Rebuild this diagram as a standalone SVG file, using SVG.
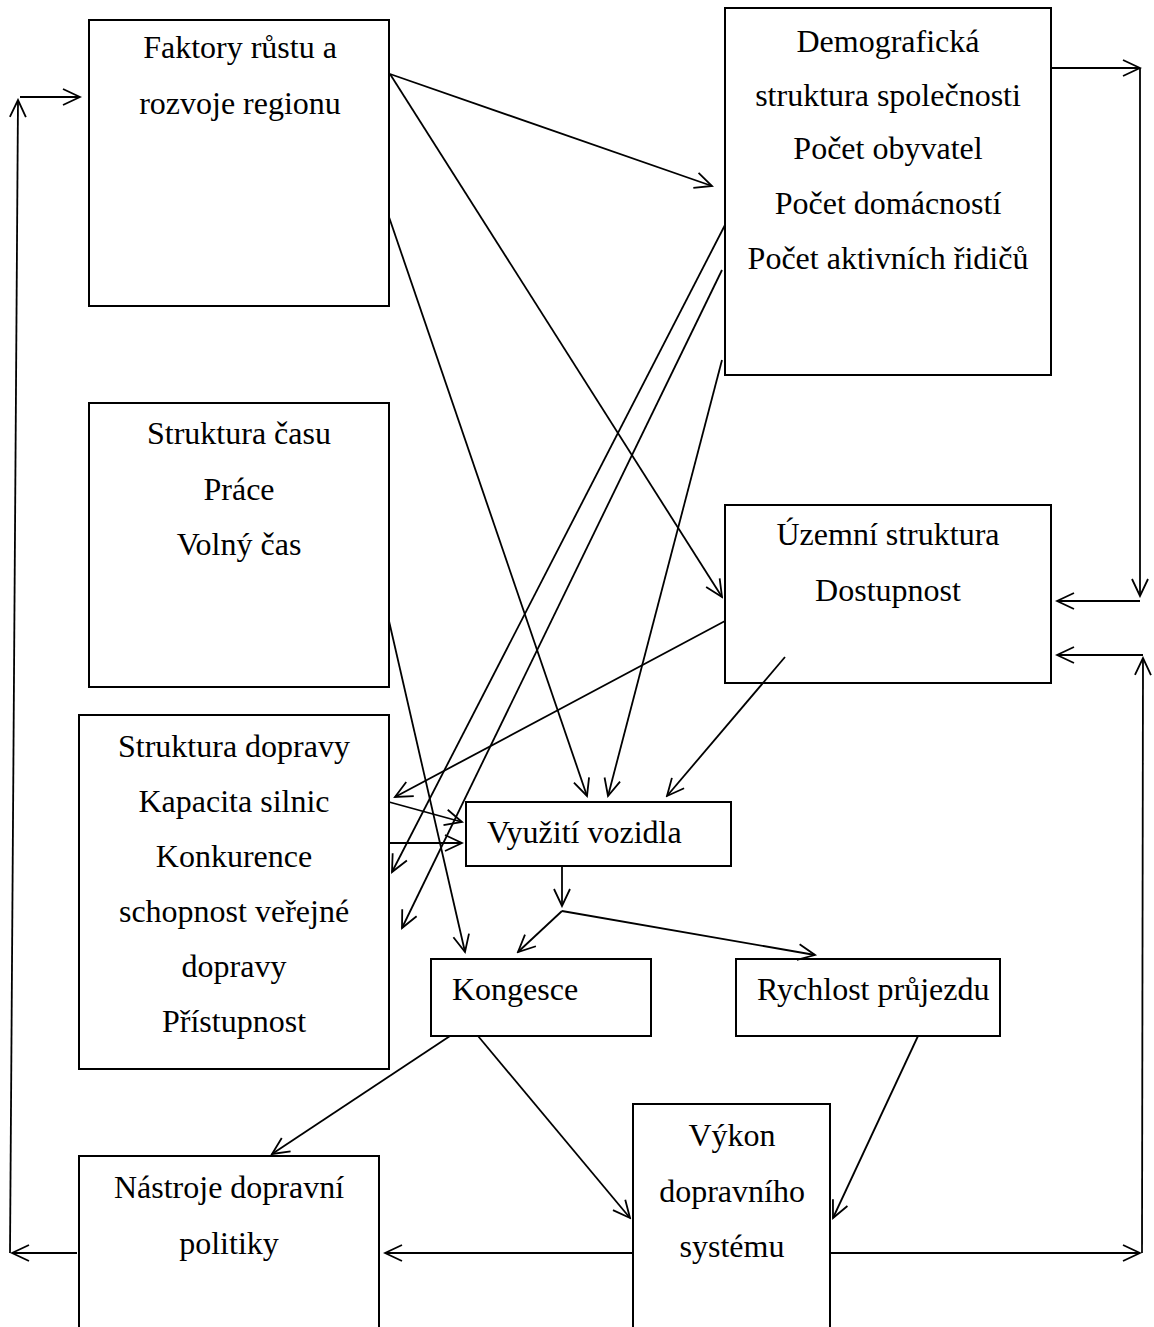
<svg xmlns="http://www.w3.org/2000/svg" width="1154" height="1327" viewBox="0 0 1154 1327">
  <style>
    .box { fill: #ffffff; stroke: #000000; stroke-width: 2; }
    .lbl { font-family: "Liberation Serif", "Times New Roman", serif; font-size: 32px; fill: #000000; }
    .mid { text-anchor: middle; }
    .link { fill: none; stroke: #000000; stroke-width: 1.8; }
    .arr { marker-end: url(#head); }
  </style>
  <defs>
    <marker id="head" viewBox="-20 -10 22 20" refX="0" refY="0" markerWidth="22" markerHeight="20" markerUnits="userSpaceOnUse" orient="auto">
      <path d="M-17,-8 L0,0 L-17,8" fill="none" stroke="#000000" stroke-width="1.8"/>
    </marker>
  </defs>
  <rect width="1154" height="1327" fill="#ffffff"/>

  <g id="node-faktory">
    <rect class="box" x="89" y="20" width="300" height="286"/>
    <text class="lbl mid" x="240" y="58">Faktory růstu a</text>
    <text class="lbl mid" x="240" y="114">rozvoje regionu</text>
  </g>

  <g id="node-demograficka">
    <rect class="box" x="725" y="8" width="326" height="367"/>
    <text class="lbl mid" x="888" y="52">Demografická</text>
    <text class="lbl mid" x="888" y="106">struktura společnosti</text>
    <text class="lbl mid" x="888" y="159">Počet obyvatel</text>
    <text class="lbl mid" x="888" y="214">Počet domácností</text>
    <text class="lbl mid" x="888" y="269">Počet aktivních řidičů</text>
  </g>

  <g id="node-cas">
    <rect class="box" x="89" y="403" width="300" height="284"/>
    <text class="lbl mid" x="239" y="444">Struktura času</text>
    <text class="lbl mid" x="239" y="500">Práce</text>
    <text class="lbl mid" x="239" y="555">Volný čas</text>
  </g>

  <g id="node-uzemni">
    <rect class="box" x="725" y="505" width="326" height="178"/>
    <text class="lbl mid" x="888" y="545">Územní struktura</text>
    <text class="lbl mid" x="888" y="601">Dostupnost</text>
  </g>

  <g id="node-doprava">
    <rect class="box" x="79" y="715" width="310" height="354"/>
    <text class="lbl mid" x="234" y="757">Struktura dopravy</text>
    <text class="lbl mid" x="234" y="812">Kapacita silnic</text>
    <text class="lbl mid" x="234" y="867">Konkurence</text>
    <text class="lbl mid" x="234" y="922">schopnost veřejné</text>
    <text class="lbl mid" x="234" y="977">dopravy</text>
    <text class="lbl mid" x="234" y="1032">Přístupnost</text>
  </g>

  <g id="node-vyuziti">
    <rect class="box" x="466" y="802" width="265" height="64"/>
    <text class="lbl" x="487" y="843">Využití vozidla</text>
  </g>

  <g id="node-kongesce">
    <rect class="box" x="431" y="959" width="220" height="77"/>
    <text class="lbl" x="452" y="1000">Kongesce</text>
  </g>

  <g id="node-rychlost">
    <rect class="box" x="736" y="959" width="264" height="77"/>
    <text class="lbl" x="757" y="1000">Rychlost průjezdu</text>
  </g>

  <g id="node-vykon">
    <rect class="box" x="633" y="1104" width="197" height="240"/>
    <text class="lbl mid" x="732" y="1146">Výkon</text>
    <text class="lbl mid" x="732" y="1202">dopravního</text>
    <text class="lbl mid" x="732" y="1257">systému</text>
  </g>

  <g id="node-nastroje">
    <rect class="box" x="79" y="1156" width="300" height="190"/>
    <text class="lbl mid" x="229" y="1198">Nástroje dopravní</text>
    <text class="lbl mid" x="229" y="1254">politiky</text>
  </g>

  <g id="connectors">
    <!-- left feedback loop -->
    <line class="link arr" x1="77" y1="1253" x2="12" y2="1253"/>
    <line class="link arr" x1="10" y1="1253" x2="18" y2="100"/>
    <line class="link arr" x1="20" y1="97" x2="80" y2="97"/>

    <!-- right feedback loop -->
    <line class="link arr" x1="1051" y1="68" x2="1140" y2="68"/>
    <line class="link arr" x1="1140" y1="68" x2="1140" y2="596"/>
    <line class="link arr" x1="1140" y1="601" x2="1057" y2="601"/>
    <line class="link arr" x1="831" y1="1253" x2="1140" y2="1253"/>
    <line class="link arr" x1="1142" y1="1253" x2="1143" y2="658"/>
    <line class="link arr" x1="1143" y1="655" x2="1057" y2="655"/>

    <!-- from Faktory -->
    <line class="link arr" x1="390" y1="74" x2="712" y2="186"/>
    <line class="link arr" x1="390" y1="74" x2="722" y2="597"/>
    <line class="link arr" x1="389" y1="217" x2="587" y2="796"/>

    <!-- from Demograficka -->
    <line class="link arr" x1="725" y1="225" x2="392" y2="872"/>
    <line class="link arr" x1="722" y1="270" x2="402" y2="928"/>
    <line class="link arr" x1="722" y1="360" x2="608" y2="796"/>

    <!-- from Uzemni -->
    <line class="link arr" x1="725" y1="621" x2="395" y2="797"/>
    <line class="link arr" x1="785" y1="657" x2="667" y2="796"/>

    <!-- from Struktura casu -->
    <line class="link arr" x1="389" y1="621" x2="465" y2="952"/>

    <!-- from Struktura dopravy -->
    <line class="link arr" x1="389" y1="802" x2="462" y2="822"/>
    <line class="link arr" x1="389" y1="843" x2="462" y2="843"/>

    <!-- from Vyuziti -->
    <line class="link arr" x1="562" y1="867" x2="562" y2="906"/>
    <line class="link arr" x1="562" y1="911" x2="518" y2="952"/>
    <line class="link arr" x1="562" y1="911" x2="815" y2="955"/>

    <!-- from Kongesce / Rychlost -->
    <line class="link arr" x1="450" y1="1036" x2="272" y2="1154"/>
    <line class="link arr" x1="478" y1="1036" x2="630" y2="1218"/>
    <line class="link arr" x1="918" y1="1036" x2="833" y2="1218"/>

    <!-- from Vykon -->
    <line class="link arr" x1="633" y1="1253" x2="385" y2="1253"/>
  </g>
</svg>
